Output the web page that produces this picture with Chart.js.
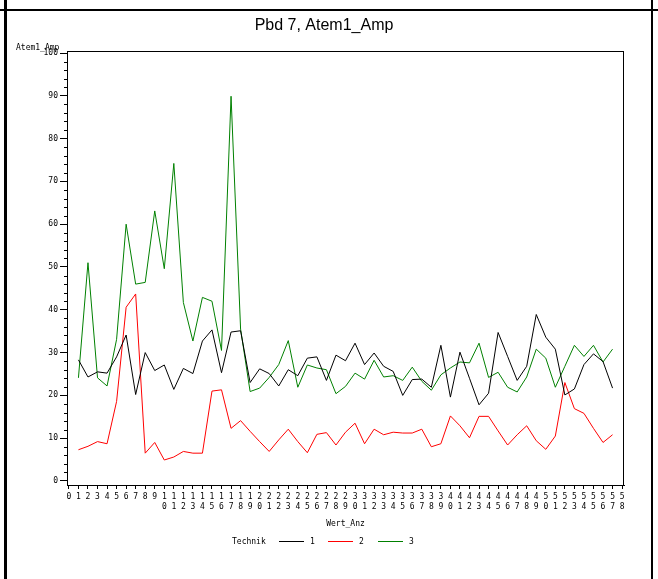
<!DOCTYPE html>
<html><head><meta charset="utf-8">
<script src="https://cdn.jsdelivr.net/npm/chart.js@4.4.0/dist/chart.umd.min.js"></script>
<style>html,body{margin:0;padding:0;background:#fff;}#wrap{width:658px;height:579px;position:relative;}</style>
</head><body><div id="wrap"><canvas id="c" width="658" height="579"></canvas></div>
<script>
const chartTitle = 'Pbd 7, Atem1_Amp';
const yTitle = 'Atem1_Amp';
const xTitle = 'Wert_Anz';
const legendTitle = 'Technik';
const seriesNames = ['1', '2', '3'];
const wertAnz = [1,2,3,4,5,6,7,8,9,10,11,12,13,14,15,16,17,18,19,20,21,22,23,24,25,26,27,28,29,30,31,32,33,34,35,36,37,38,39,40,41,42,43,44,45,46,47,48,49,50,51,52,53,54,55,56,57];
const technik1 = [28.3,24.3,25.5,25.2,29.0,34.1,20.2,30.0,25.8,27.1,21.4,26.3,25.1,32.7,35.3,25.3,34.8,35.1,23.0,26.2,25.1,22.2,26.0,24.6,28.7,29.0,23.5,29.4,28.1,32.2,27.2,29.9,26.8,25.6,20.0,23.7,23.8,21.9,31.7,19.6,30.1,24.0,17.8,20.5,34.7,29.1,23.5,26.8,38.9,33.6,30.8,20.1,21.5,27.2,29.7,27.9,21.7];
const technik2 = [7.3,8.1,9.2,8.7,18.6,40.6,43.7,6.5,9.0,4.9,5.6,6.9,6.5,6.5,21.0,21.3,12.3,14.1,11.6,9.2,6.9,9.6,12.1,9.2,6.6,10.9,11.3,8.4,11.4,13.5,8.7,12.1,10.8,11.4,11.2,11.2,12.1,8.0,8.7,15.2,12.9,10.1,15.1,15.1,11.7,8.4,10.8,12.9,9.4,7.4,10.5,23.0,16.9,15.8,12.3,9.0,10.8];
const technik3 = [24.1,51.0,24.1,22.2,33.1,60.0,46.0,46.4,63.1,49.6,74.2,41.7,32.7,42.9,42.0,30.5,89.9,35.5,20.9,21.7,24.2,27.2,32.8,21.9,27.1,26.4,26.0,20.4,22.1,25.2,23.8,28.2,24.3,24.6,23.5,26.6,23.3,21.2,24.8,26.4,27.8,27.6,32.2,24.2,25.4,21.9,20.8,24.3,30.8,28.7,21.9,26.8,31.7,29.1,31.7,27.8,30.8];
const xTickValues = [0,1,2,3,4,5,6,7,8,9,10,11,12,13,14,15,16,17,18,19,20,21,22,23,24,25,26,27,28,29,30,31,32,33,34,35,36,37,38,39,40,41,42,43,44,45,46,47,48,49,50,51,52,53,54,55,56,57,58];
const yTickValues = [0,10,20,30,40,50,60,70,80,90,100];
const yMinorTickValues = [2,4,6,8,12,14,16,18,22,24,26,28,32,34,36,38,42,44,46,48,52,54,56,58,62,64,66,68,72,74,76,78,82,84,86,88,92,94,96,98];

const colors = ['#000000', '#ff0000', '#008000'];
const monoFont = "'DejaVu Sans Mono', 'Liberation Mono', monospace";

function toPoints(vals) { return wertAnz.map((x, i) => ({x: x, y: vals[i]})); }

const decor = {
  id: 'decor',
  afterDraw(chart) {
    const ctx = chart.ctx;
    const a = chart.chartArea;
    const ys = chart.scales.y;
    ctx.save();
    // outer frame
    ctx.fillStyle = '#000';
    ctx.fillRect(4, 0, 3, 579);
    ctx.fillRect(651, 0, 2, 579);
    ctx.fillRect(0, 9, 658, 2);
    // plot frame
    ctx.strokeStyle = '#000';
    ctx.lineWidth = 1;
    ctx.strokeRect(a.left + 0.5, a.top + 0.5, a.right - a.left - 1, a.bottom - a.top);
    // minor y ticks
    ctx.beginPath();
    yMinorTickValues.forEach(v => {
      const py = Math.round(ys.getPixelForValue(v)) + 0.5;
      ctx.moveTo(a.left - 3, py);
      ctx.lineTo(a.left, py);
    });
    ctx.stroke();
    // title
    ctx.fillStyle = '#000';
    ctx.font = "16px 'Liberation Sans', Arial, sans-serif";
    ctx.textAlign = 'center';
    ctx.textBaseline = 'alphabetic';
    ctx.fillText(chartTitle, 324, 30);
    // y title
    ctx.font = "8px " + monoFont;
    ctx.textAlign = 'left';
    ctx.textBaseline = 'middle';
    ctx.fillText(yTitle, 16, 48);
    // x title
    ctx.textAlign = 'center';
    ctx.fillText(xTitle, (a.left + a.right) / 2, 524);
    // legend
    ctx.textAlign = 'left';
    ctx.fillText(legendTitle, 232, 542);
    const lx = [279, 328, 378];
    seriesNames.forEach((n, i) => {
      ctx.strokeStyle = colors[i];
      ctx.beginPath();
      ctx.moveTo(lx[i], 541.5);
      ctx.lineTo(lx[i] + 25, 541.5);
      ctx.stroke();
      ctx.fillStyle = '#000';
      ctx.fillText(n, lx[i] + 31, 542);
    });
    ctx.restore();
  }
};

new Chart(document.getElementById('c'), {
  type: 'line',
  data: {
    datasets: [technik1, technik2, technik3].map((vals, i) => ({
      label: seriesNames[i],
      data: toPoints(vals),
      borderColor: colors[i],
      backgroundColor: colors[i],
      borderWidth: 1,
      pointRadius: 0,
      tension: 0,
      fill: false
    }))
  },
  options: {
    responsive: false,
    devicePixelRatio: 1,
    animation: false,
    layout: { padding: { left: 0, right: 34, top: 51, bottom: 0 } },
    plugins: { legend: { display: false }, title: { display: false }, tooltip: { enabled: false } },
    scales: {
      x: {
        type: 'linear',
        min: -0.2,
        max: 58.2,
        afterBuildTicks: (s) => { s.ticks = xTickValues.map(v => ({value: v})); },
        afterFit: (s) => { s.height = 94; },
        ticks: {
          autoSkip: false,
          maxRotation: 0,
          minRotation: 0,
          padding: 3,
          color: '#000',
          font: { family: monoFont, size: 8, lineHeight: 1.25 },
          callback: (v) => { const t = String(v); return t.length > 1 ? t.split('') : t; }
        },
        grid: { display: true, drawOnChartArea: false, drawTicks: true, tickLength: 4, color: '#000' },
        border: { display: true, color: '#000' }
      },
      y: {
        min: -0.94,
        max: 100.47,
        afterBuildTicks: (s) => { s.ticks = yTickValues.map(v => ({value: v})); },
        afterFit: (s) => { s.width = 67; },
        ticks: {
          padding: 2,
          color: '#000',
          font: { family: monoFont, size: 8 },
          callback: (v) => String(v)
        },
        grid: { display: true, drawOnChartArea: false, drawTicks: true, tickLength: 7, color: '#000' },
        border: { display: true, color: '#000' }
      }
    }
  },
  plugins: [decor]
});
</script>
</body></html>
